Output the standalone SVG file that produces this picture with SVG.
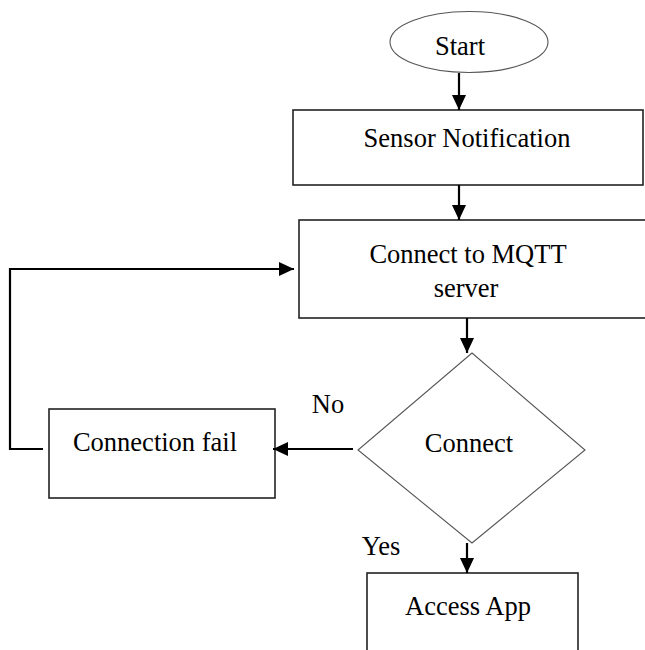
<svg xmlns="http://www.w3.org/2000/svg" width="645" height="650" viewBox="0 0 645 650">
<defs>
<marker id="ah" markerUnits="userSpaceOnUse" markerWidth="15" markerHeight="14" refX="15" refY="7" orient="auto">
<path d="M0,0 L15,7 L0,14 z" fill="#000"/>
</marker>
<style>
.box{fill:#fff;stroke:#222;stroke-width:1.6}
.thin{fill:#fff;stroke:#555;stroke-width:1.1}
.t{font-family:"Liberation Serif","Times New Roman",serif;font-size:26.5px;fill:#000;text-anchor:middle}
.c{fill:none;stroke:#000;stroke-width:2.2}
</style>
</defs>
<rect width="645" height="650" fill="#fff"/>
<g id="start">
<ellipse class="thin" cx="469" cy="42" rx="79" ry="30.5"/>
<text class="t" x="460" y="55">Start</text>
</g>
<g id="sensor">
<rect class="box" x="293" y="110" width="350" height="75"/>
<text class="t" x="467" y="147">Sensor Notification</text>
</g>
<g id="mqtt">
<rect class="box" x="299" y="220" width="360" height="98"/>
<text class="t" x="468" y="263">Connect to MQTT</text>
<text class="t" x="466" y="297">server</text>
</g>
<g id="decision">
<polygon class="thin" points="472,353 585,450 472,543 358,450"/>
<text class="t" x="469" y="452">Connect</text>
</g>
<g id="fail">
<rect class="box" x="49" y="409" width="226" height="89"/>
<text class="t" x="155" y="451">Connection fail</text>
</g>
<g id="access">
<rect class="box" x="367" y="573" width="211" height="90"/>
<text class="t" x="468" y="615">Access App</text>
</g>
<g id="connectors">
<line class="c" x1="459" y1="73" x2="459" y2="110" marker-end="url(#ah)"/>
<line class="c" x1="459" y1="185" x2="459" y2="220" marker-end="url(#ah)"/>
<line class="c" x1="467" y1="318" x2="467" y2="353" marker-end="url(#ah)"/>
<line class="c" x1="467" y1="543" x2="467" y2="573" marker-end="url(#ah)"/>
<line class="c" x1="353" y1="449" x2="273" y2="449" marker-end="url(#ah)"/>
<path class="c" d="M43,449 H10 V269 H294" marker-end="url(#ah)"/>
<text class="t" x="328" y="413">No</text>
<text class="t" x="381" y="555">Yes</text>
</g>
</svg>
